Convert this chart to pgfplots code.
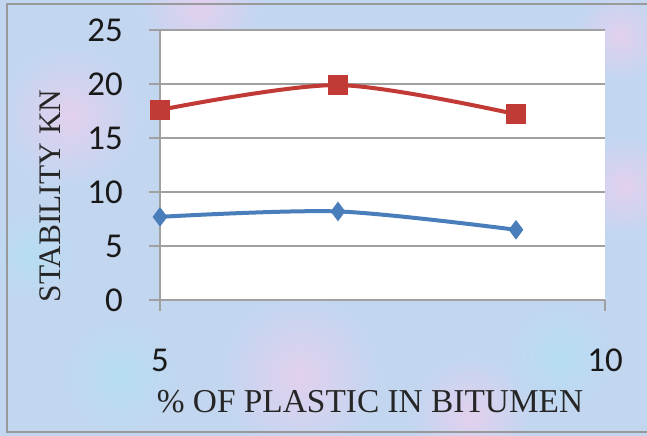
\documentclass[border=0pt]{standalone}
\usepackage{fontspec}
\usepackage{pgfplots}
\pgfplotsset{compat=1.18}
\newfontfamily\calibri{Carlito}
\newfontfamily\tnr{Liberation Serif}

\definecolor{bgbase}{RGB}{194,214,240}
\definecolor{bgpink}{RGB}{226,208,238}
\definecolor{bgcyan}{RGB}{182,222,242}
\definecolor{serA}{RGB}{74,126,187}
\definecolor{serB}{RGB}{194,58,54}
\definecolor{gridc}{RGB}{160,160,160}

\begin{document}
\begin{tikzpicture}
  % paper-like backdrop
  \begin{scope}[x=1bp,y=1bp]
    \fill[bgbase] (0,0) rectangle (647,436);
    \clip (0,0) rectangle (647,436);
    \shade[inner color=bgpink, outer color=bgbase] (70,320) circle (70);
    \shade[inner color=bgpink, outer color=bgbase] (300,60) circle (80);
    \shade[inner color=bgcyan, outer color=bgbase] (120,60) circle (60);
    \shade[inner color=bgpink, outer color=bgbase] (470,20) circle (60);
    \shade[inner color=bgcyan, outer color=bgbase] (560,80) circle (55);
    \shade[inner color=bgpink, outer color=bgbase] (625,250) circle (50);
    \shade[inner color=bgpink, outer color=bgbase] (200,430) circle (60);
    \shade[inner color=bgcyan, outer color=bgbase] (30,180) circle (45);
    \shade[inner color=bgpink, outer color=bgbase] (620,400) circle (45);
    \draw[gray!80, line width=1.5] (660,432) -- (7,432) -- (7,4) -- (660,4);
  \end{scope}

  \begin{axis}[
    at={(160bp,136bp)}, anchor=south west,
    scale only axis, width=445bp, height=270bp,
    xmin=5, xmax=10, ymin=0, ymax=25,
    xtick={5,10}, ytick={0,5,...,25},
    axis background/.style={fill=white},
    axis x line*=bottom, axis y line*=left,
    axis line style={gridc, line width=1.2bp, -},
    ymajorgrids, grid style={gridc, line width=1.4bp},
    tick style={gridc, line width=1.2bp},
    tick align=outside, major tick length=11bp,
    /pgf/number format/assume math mode=true,
    every tick label/.append style={font=\calibri\fontsize{35}{35}\selectfont, text=black!90},
    yticklabel style={anchor=east, inner sep=0pt, xshift=-26bp},
    xticklabel style={anchor=north, inner sep=0pt, yshift=-38bp},
    clip=false,
  ]
    \addplot[serA, line width=4bp, smooth, tension=0.5,
      mark=diamond*, mark size=9bp, mark options={solid, fill=serA, line width=1bp}]
      coordinates {(5,7.7) (7,8.2) (9,6.5)};
    \addplot[serB, line width=4bp, smooth, tension=0.5,
      mark=square*, mark size=9.5bp, mark options={solid, fill=serB, line width=1bp}]
      coordinates {(5,17.6) (7,19.9) (9,17.2)};
  \end{axis}

  \begin{scope}[x=1bp,y=1bp]
    \node[font=\tnr\fontsize{31.5}{31.5}\selectfont, rotate=90, anchor=base, inner sep=0pt, text=black!85]
      at (60,240) {STABILITY KN};
    \node[font=\tnr\fontsize{33.5}{33.5}\selectfont, anchor=base, inner sep=0pt, text=black!85]
      at (370,24) {\% OF PLASTIC IN BITUMEN};
  \end{scope}

  % the page is exactly the backdrop
  \pgfresetboundingbox
  \useasboundingbox (0,0) rectangle (647bp,436bp);
\end{tikzpicture}
\end{document}
